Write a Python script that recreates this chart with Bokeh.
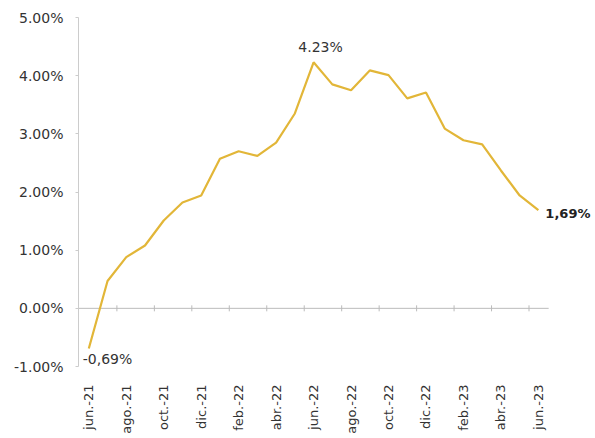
import math
from bokeh.plotting import figure
from bokeh.models import Range1d, FixedTicker, Label
from bokeh.embed import file_html
from bokeh.resources import INLINE

months = ["jun.-21", "jul.-21", "ago.-21", "sep.-21", "oct.-21", "nov.-21", "dic.-21",
          "ene.-22", "feb.-22", "mar.-22", "abr.-22", "may.-22", "jun.-22", "jul.-22",
          "ago.-22", "sep.-22", "oct.-22", "nov.-22", "dic.-22", "ene.-23", "feb.-23",
          "mar.-23", "abr.-23", "may.-23", "jun.-23"]
values = [-0.69, 0.47, 0.88, 1.08, 1.51, 1.82, 1.94, 2.57, 2.70, 2.62, 2.85, 3.35, 4.23,
          3.85, 3.75, 4.09, 4.01, 3.61, 3.71, 3.09, 2.89, 2.82, 2.37, 1.94, 1.69]
y_ticks = [-1, 0, 1, 2, 3, 4, 5]
y_labels = ["-1.00%", "0.00%", "1.00%", "2.00%", "3.00%", "4.00%", "5.00%"]
shown_idx = list(range(0, len(months), 2))
minor_idx = [i + 0.5 for i in range(1, len(months) - 1, 2)]

xs = list(range(len(months)))
FONT = "DejaVu Sans"
TXT = "#333333"
GOLD = "#E2B638"
AX = "#BBBBBB"

pad = 0.55
x_start = -pad
x_axis_end = len(months) - 1 + pad
x_end = x_axis_end + 2.5  # extra room on the right for the last-value label

p = figure(width=595, height=436, output_backend="svg", toolbar_location=None,
           x_range=Range1d(x_start, x_end), y_range=Range1d(-1, 5),
           min_border_left=78, min_border_right=0, min_border_top=17, min_border_bottom=69)
p.outline_line_color = None
p.grid.visible = False
p.background_fill_color = "white"

# zero line with small category ticks
p.segment(x0=[x_start], y0=[0], x1=[x_axis_end], y1=[0], line_color=AX, line_width=1)
p.scatter(minor_idx, [0] * len(minor_idx), marker="dash", angle=math.pi / 2, size=6,
          line_color=AX, line_width=1)

p.line(xs, values, line_color=GOLD, line_width=2.2)

# axes
p.yaxis.ticker = FixedTicker(ticks=y_ticks)
p.yaxis.major_label_overrides = {t: l for t, l in zip(y_ticks, y_labels)}
p.yaxis.axis_line_color = "#CCCCCC"
p.yaxis.major_tick_line_color = "#CCCCCC"
p.yaxis.major_tick_out = 3
p.yaxis.major_tick_in = 0
p.yaxis.minor_tick_line_color = None
p.yaxis.major_label_standoff = 12
p.yaxis.major_label_text_font = FONT
p.yaxis.major_label_text_font_size = "14px"
p.yaxis.major_label_text_color = TXT

p.xaxis.ticker = FixedTicker(ticks=shown_idx)
p.xaxis.major_label_overrides = {i: months[i] for i in shown_idx}
p.xaxis.major_label_orientation = math.pi / 2
p.xaxis.axis_line_color = None
p.xaxis.major_tick_line_color = None
p.xaxis.minor_tick_line_color = None
p.xaxis.major_label_standoff = 12
p.xaxis.major_label_text_font = FONT
p.xaxis.major_label_text_font_size = "13px"
p.xaxis.major_label_text_color = TXT

# annotations
i_min = 0
i_max = values.index(max(values))
i_last = len(values) - 1
p.add_layout(Label(x=i_min, y=values[i_min], text="-0,69%", x_offset=-6, y_offset=-3,
                   text_align="left", text_baseline="top", text_font=FONT,
                   text_font_size="14px", text_color=TXT))
p.add_layout(Label(x=i_max, y=values[i_max], text="4.23%", x_offset=7, y_offset=7,
                   text_align="center", text_baseline="bottom", text_font=FONT,
                   text_font_size="14px", text_color=TXT))
p.add_layout(Label(x=i_last, y=values[i_last], text="1,69%", x_offset=7, y_offset=-3,
                   text_align="left", text_baseline="middle", text_font=FONT,
                   text_font_size="13px", text_font_style="bold", text_color="#222222"))

open("out.html", "w").write(file_html(p, INLINE))
